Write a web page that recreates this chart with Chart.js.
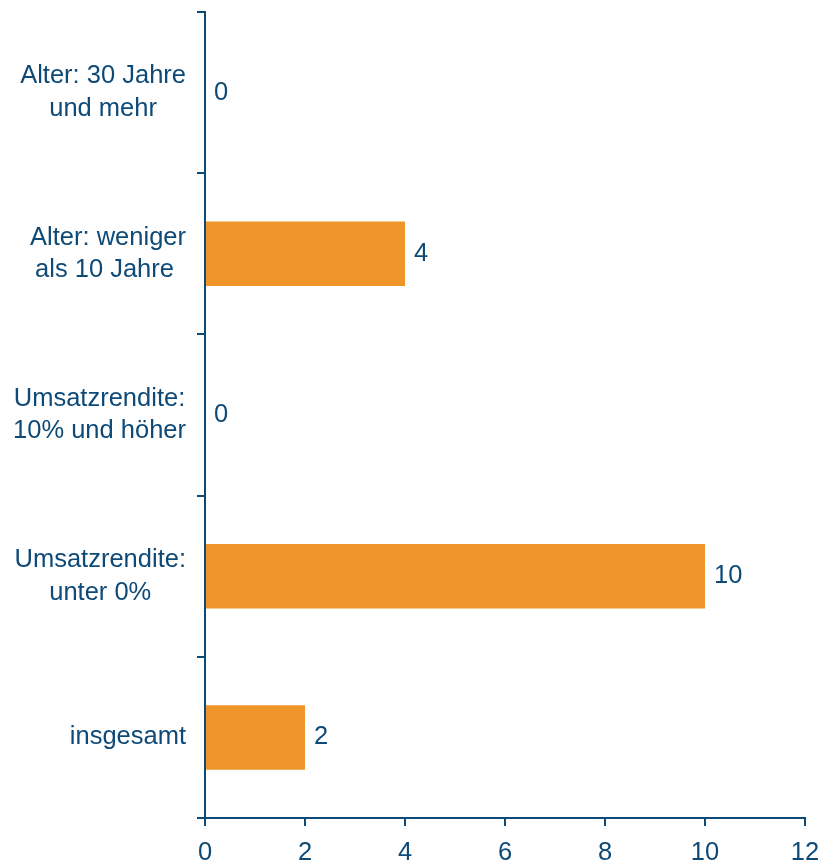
<!DOCTYPE html>
<html>
<head>
<meta charset="utf-8">
<script src="https://cdn.jsdelivr.net/npm/chart.js@4.4.0/dist/chart.umd.min.js"></script>
<style>
  html, body { margin: 0; padding: 0; background: #ffffff; }
  #wrap { width: 820px; height: 865px; }
</style>
</head>
<body>
<div id="wrap"><canvas id="c" width="820" height="865"></canvas></div>
<script>
const categories = [
  ["Alter: 30 Jahre", "und mehr"],
  ["Alter: weniger", "als 10 Jahre "],
  ["Umsatzrendite:", "10% und höher"],
  ["Umsatzrendite:", "unter 0%"],
  ["insgesamt"]
];
const values = [0, 4, 0, 10, 2];
const xTicks = [0, 2, 4, 6, 8, 10, 12];

const TEXT = '#0E4A78';
const AXIS = '#0E4A78';
const BAR = '#EF9529';
const FONT = { family: '"Liberation Sans", Arial, sans-serif', size: 25.5, lineHeight: 1.28 };
const FONT_CSS = FONT.size + 'px ' + FONT.family;

// Value labels next to the bars
const valueLabels = {
  id: 'valueLabels',
  afterDatasetsDraw(chart) {
    const ctx = chart.ctx;
    const meta = chart.getDatasetMeta(0);
    ctx.save();
    ctx.fillStyle = TEXT;
    ctx.font = FONT_CSS;
    ctx.textAlign = 'left';
    ctx.textBaseline = 'middle';
    meta.data.forEach((bar, i) => {
      ctx.fillText(String(values[i]), bar.x + 9, bar.y);
    });
    ctx.restore();
  }
};

// Category labels: each block right-aligned, lines centred within the block
const categoryLabels = {
  id: 'categoryLabels',
  afterDraw(chart) {
    const ctx = chart.ctx;
    const ys = chart.scales.y;
    const rightEdge = ys.right - 8 - 11;
    const lh = FONT.size * FONT.lineHeight;
    ctx.save();
    ctx.fillStyle = TEXT;
    ctx.font = FONT_CSS;
    ctx.textAlign = 'center';
    ctx.textBaseline = 'middle';
    categories.forEach((lines, i) => {
      const y = ys.getPixelForTick(i);
      const w = Math.max(...lines.map(l => ctx.measureText(l).width));
      const cx = rightEdge - w / 2;
      const y0 = y - (lines.length - 1) * lh / 2;
      lines.forEach((l, j) => ctx.fillText(l, cx, y0 + j * lh));
    });
    ctx.restore();
  }
};

new Chart(document.getElementById('c'), {
  type: 'bar',
  data: {
    labels: categories,
    datasets: [{
      data: values,
      backgroundColor: BAR,
      borderWidth: 0,
      barPercentage: 0.4,
      categoryPercentage: 1.0
    }]
  },
  options: {
    indexAxis: 'y',
    responsive: false,
    animation: false,
    devicePixelRatio: 1,
    layout: { padding: { top: 12, right: 15, bottom: 0, left: 0 } },
    plugins: { legend: { display: false }, tooltip: { enabled: false } },
    scales: {
      x: {
        min: 0, max: 12,
        afterBuildTicks(scale) { scale.ticks = xTicks.map(v => ({ value: v })); },
        afterFit(scale) { scale.height = 47; scale.paddingLeft = 0; scale.paddingRight = 0; },
        ticks: { color: TEXT, font: FONT, padding: 11, maxRotation: 0 },
        grid: { display: true, drawOnChartArea: false, drawTicks: true, tickLength: 8, color: AXIS, lineWidth: 2 },
        border: { display: true, color: AXIS, width: 2 }
      },
      y: {
        afterFit(scale) { scale.width = 205; scale.paddingTop = 0; scale.paddingBottom = 0; },
        ticks: { display: false },
        grid: { display: true, offset: true, drawOnChartArea: false, drawTicks: true, tickLength: 8, color: AXIS, lineWidth: 2 },
        border: { display: true, color: AXIS, width: 2 }
      }
    }
  },
  plugins: [valueLabels, categoryLabels]
});
</script>
</body>
</html>
